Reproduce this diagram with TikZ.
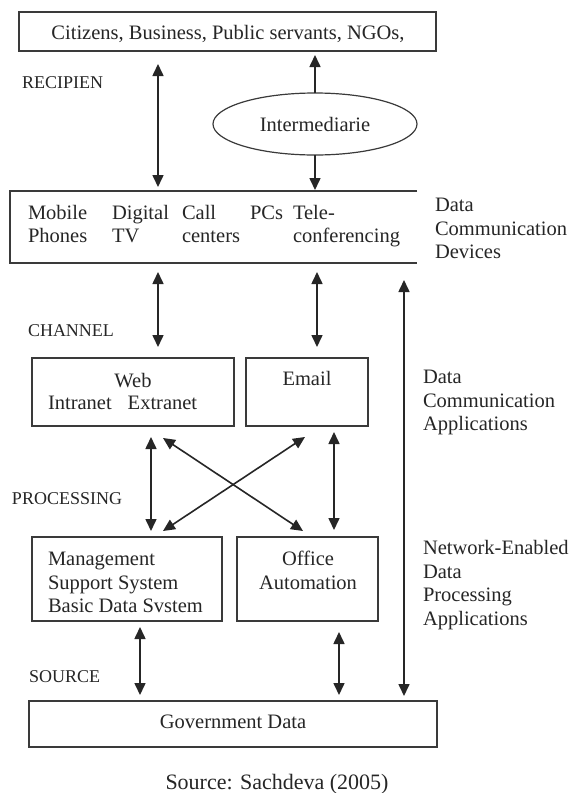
\documentclass[tikz,border=0pt]{standalone}
\usepackage{fontspec}
\setmainfont{Liberation Serif}
\usetikzlibrary{arrows.meta,shapes.geometric}
\definecolor{tcol}{HTML}{262626}
\definecolor{lcol}{HTML}{3A3A3A}
\begin{document}
\begin{tikzpicture}[x=1pt,y=-1pt,
  box/.style={draw=lcol,line width=1.4pt,inner sep=0pt,outer sep=0pt},
  txt/.style={font=\fontsize{20.5}{23.5}\selectfont,inner sep=0pt,outer sep=0pt,text=tcol},
  lbl/.style={font=\fontsize{18}{21}\selectfont,inner sep=0pt,outer sep=0pt,text=tcol},
  captxt/.style={font=\fontsize{22}{25}\selectfont,inner sep=0pt,outer sep=0pt,text=tcol},
  dbl/.style={{Triangle[length=12pt,width=11pt]}-{Triangle[length=12pt,width=11pt]},line width=1.6pt,draw=black!85},
  sgl/.style={-{Triangle[length=12pt,width=11pt]},line width=1.6pt,draw=black!85}]
\fill[white] (0,0) rectangle (571,793);
\useasboundingbox (0,0) rectangle (571,793);

% boxes
\node[box,minimum width=417pt,minimum height=39pt] (top) at (227.5,31.5) {};
\node[inner sep=0pt,outer sep=0pt,minimum width=407pt,minimum height=72pt] (dev) at (213.5,227) {};
\draw[lcol,line width=1.4pt] (dev.north east) -- (dev.north west) -- (dev.south west) -- (dev.south east);
\node[ellipse,box,line width=1.2pt,txt,minimum width=204pt,minimum height=62pt] (ell) at (315,124) {Intermediarie};
\node[box,minimum width=202pt,minimum height=68pt] (web) at (133,392) {};
\node[box,minimum width=122pt,minimum height=68pt] (email) at (307,392) {};
\node[box,minimum width=190pt,minimum height=84pt] (mss) at (127,579) {};
\node[box,minimum width=141pt,minimum height=84pt] (office) at (307.5,579) {};
\node[box,minimum width=408pt,minimum height=46pt] (gov) at (233,724) {};

% texts
\node[txt,anchor=base] (toptx) at (228,39) {Citizens, Business, Public servants, NGOs,};
\node[lbl,anchor=base west] (recip) at (22,88) {RECIPIEN};
\node[txt,anchor=north west,align=left] (mob) at (28,202.55) {\strut Mobile\\\strut Phones};
\node[txt,anchor=north west,align=left] (dig) at (112,202.55) {\strut Digital\\\strut TV};
\node[txt,anchor=north west,align=left] (call) at (182,202.55) {\strut Call\\\strut centers};
\node[txt,anchor=base west] (pcs) at (250,219) {PCs};
\node[txt,anchor=north west,align=left] (tele) at (293,202.55) {\strut Tele-\\\strut conferencing};
\node[txt,anchor=north west,align=left] (ddev) at (435,195.05) {\strut Data\\\strut Communication\\\strut Devices};
\node[lbl,anchor=base west] (chan) at (28,336) {CHANNEL};
\node[txt,anchor=base] (webt1) at (133,387) {Web};
\node[txt,anchor=base west] (webt2) at (48,409) {Intranet\hspace{16pt}Extranet};
\node[txt,anchor=base] (emailt) at (307,385) {Email};
\node[txt,anchor=north west,align=left] (dca) at (423,367.05) {\strut Data\\\strut Communication\\\strut Applications};
\node[lbl,anchor=base west] (proc) at (12,504) {PROCESSING};
\node[txt,anchor=north west,align=left] (msst) at (48,549.05) {\strut Management\\\strut Support System\\\strut Basic Data Svstem};
\node[txt,anchor=north,align=center] (officet) at (308,549.05) {\strut Office\\\strut Automation};
\node[txt,anchor=north west,align=left] (ned) at (423,538.05) {\strut Network-Enabled\\\strut Data\\\strut Processing\\\strut Applications};
\node[lbl,anchor=base west] (src) at (29,682) {SOURCE};
\node[txt,anchor=base] (govt) at (233,728.5) {Government Data};
\node[captxt,anchor=base] (caption) at (277,789) {Source: Sachdeva (2005)};

% x positions of connectors
\coordinate (xA) at (158,0);
\coordinate (xE) at (317,0);
\coordinate (xF) at (404,0);
\coordinate (xG) at (151,0);
\coordinate (xJ) at (334,0);
\coordinate (xK) at (140,0);
\coordinate (xL) at (339,0);
\coordinate (c1s) at (163,438);
\coordinate (c1e) at (303,531);
\coordinate (c2s) at (305,437);
\coordinate (c2e) at (163,531);

% connectors
\draw[dbl,shorten <=13pt,shorten >=4pt] (top.south -| xA) -- (dev.north -| xA);
\draw[sgl,shorten >=4pt] (ell.north) -- (top.south -| ell.north);
\draw[sgl,shorten >=1pt] (ell.south) -- (dev.north -| ell.south);
\draw[dbl,shorten <=9pt,shorten >=11pt] (dev.south -| xA) -- (web.north -| xA);
\draw[dbl,shorten <=9pt,shorten >=11pt] (dev.south -| xE) -- (email.north -| xE);
\draw[dbl,shorten <=17pt,shorten >=5pt] (dev.south -| xF) -- (gov.north -| xF);
\draw[dbl,shorten <=11pt,shorten >=6pt] (web.south -| xG) -- (mss.north -| xG);
\draw[dbl] (c1s) -- (c1e);
\draw[dbl] (c2s) -- (c2e);
\draw[dbl,shorten <=6pt,shorten >=7pt] (email.south -| xJ) -- (office.north -| xJ);
\draw[dbl,shorten <=6pt,shorten >=6pt] (mss.south -| xK) -- (gov.north -| xK);
\draw[dbl,shorten <=11pt,shorten >=6pt] (office.south -| xL) -- (gov.north -| xL);
\end{tikzpicture}
\end{document}
